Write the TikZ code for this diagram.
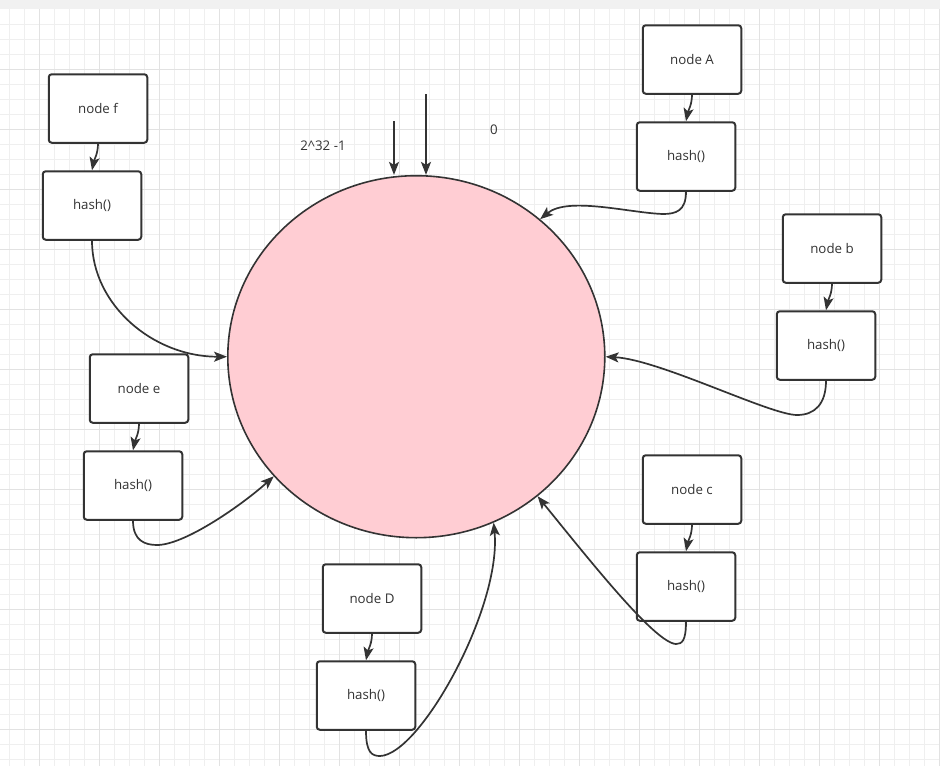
\documentclass[tikz,border=0pt]{standalone}
\usepackage{fontspec}
\setmainfont{Open Sans}
\usetikzlibrary{arrows.meta,shapes.geometric}
\definecolor{ink}{HTML}{333333}
\definecolor{ringfill}{HTML}{FFCDD3}
\definecolor{gminor}{HTML}{EFEFEF}
\definecolor{gmajor}{HTML}{E2E2E2}
\definecolor{band}{HTML}{F1F1F1}
\begin{document}
\begin{tikzpicture}[x=1pt,y=-1pt,
  box/.style={draw=ink, line width=2pt, rounded corners=3pt, fill=white,
    minimum width=98.5pt, minimum height=68.5pt, inner sep=0pt, text=ink,
    font=\fontsize{13.3}{15}\selectfont},
  lbl/.style={inner sep=0pt, text=ink, font=\fontsize{13.3}{15}\selectfont},
  ringstyle/.style={ellipse, draw=ink, line width=1.6pt, fill=ringfill,
    minimum width=377pt, minimum height=362pt, inner sep=0pt},
  link/.style={draw=ink, line width=1.7pt, -{Stealth[length=13pt,width=10pt,inset=3pt]}},
  gridminorline/.style={draw=gminor, line width=1pt},
  gridmajorline/.style={draw=gmajor, line width=1pt}]
\useasboundingbox (0,0) rectangle (940,766);
\fill[white] (0,0) rectangle (940,766);
% grid
\foreach \x in {9,24,...,939} \draw[gridminorline] (\x,9) -- (\x,766);
\foreach \y in {24,39,...,766} \draw[gridminorline] (0,\y) -- (940,\y);
\foreach \x in {39,99,...,939} \draw[gridmajorline] (\x,9) -- (\x,766);
\foreach \y in {69,129,...,766} \draw[gridmajorline] (0,\y) -- (940,\y);
\fill[band] (0,0) rectangle (940,9);
% ring
\node[ringstyle] (ring) at (416.3,356.7) {};
% boxes
\node[box] (nf) at (98,108.5) {node f};
\node[box] (hf) at (92,205.5) {hash()};
\node[box] (ne) at (139,388.5) {node e};
\node[box] (he) at (133,485.5) {hash()};
\node[box] (nD) at (372,598.5) {node D};
\node[box] (hD) at (366,695.5) {hash()};
\node[box] (nA) at (692,59.5) {node A};
\node[box] (hA) at (686,156.5) {hash()};
\node[box] (nb) at (832,248.5) {node b};
\node[box] (hb) at (826,345.5) {hash()};
\node[box] (nc) at (692,489.5) {node c};
\node[box] (hc) at (686,586.5) {hash()};
% labels
\node[lbl] (lmax) at (323,146) {2\textasciicircum 32 -1};
\node[lbl] (lzero) at (494,130) {0};
% start arrows
\coordinate (s1) at (394,121);
\coordinate (s0) at (426,94);
\draw[link] (s1) -- (s1 |- ring.north);
\draw[link] (s0) -- (s0 |- ring.north);
% node -> hash
\foreach \n/\h in {nf/hf, ne/he, nD/hD, nA/hA, nb/hb, nc/hc}
  \draw[link] (\n.south) .. controls +(0,10) and +(2,-10) .. (\h.north);
% hash -> ring
\coordinate (kA) at (663,214);
\coordinate (kb) at (797,415);
\coordinate (kc) at (676,644);
\coordinate (kD) at (380,756);
\coordinate (ke) at (157,545);
\draw[link] (hf.south) .. controls +(0,64) and +(-74,0) .. (ring.west);
\draw[link] (hA.south) .. controls +(0,19) and +(13,0) .. (kA)
  .. controls +(-33,-1) and +(28,-23) .. (ring.48.4);
\draw[link] (hb.south) .. controls +(0,23) and +(18,0) .. (kb)
  .. controls +(-27,0) and +(54,3) .. (ring.east);
\draw[link] (hc.south) .. controls +(0,19) and +(6,0) .. (kc)
  .. controls +(-21,-1) and +(52,64) .. (ring.-49.7);
\draw[link] (hD.south) .. controls +(0,22) and +(-8,0) .. (kD)
  .. controls +(40,-1) and +(8,85) .. (ring.-65.2);
\draw[link] (he.south) .. controls +(0,20) and +(-12,0) .. (ke)
  .. controls +(28,0) and +(-31,28) .. (ring.220.6);
\end{tikzpicture}
\end{document}
